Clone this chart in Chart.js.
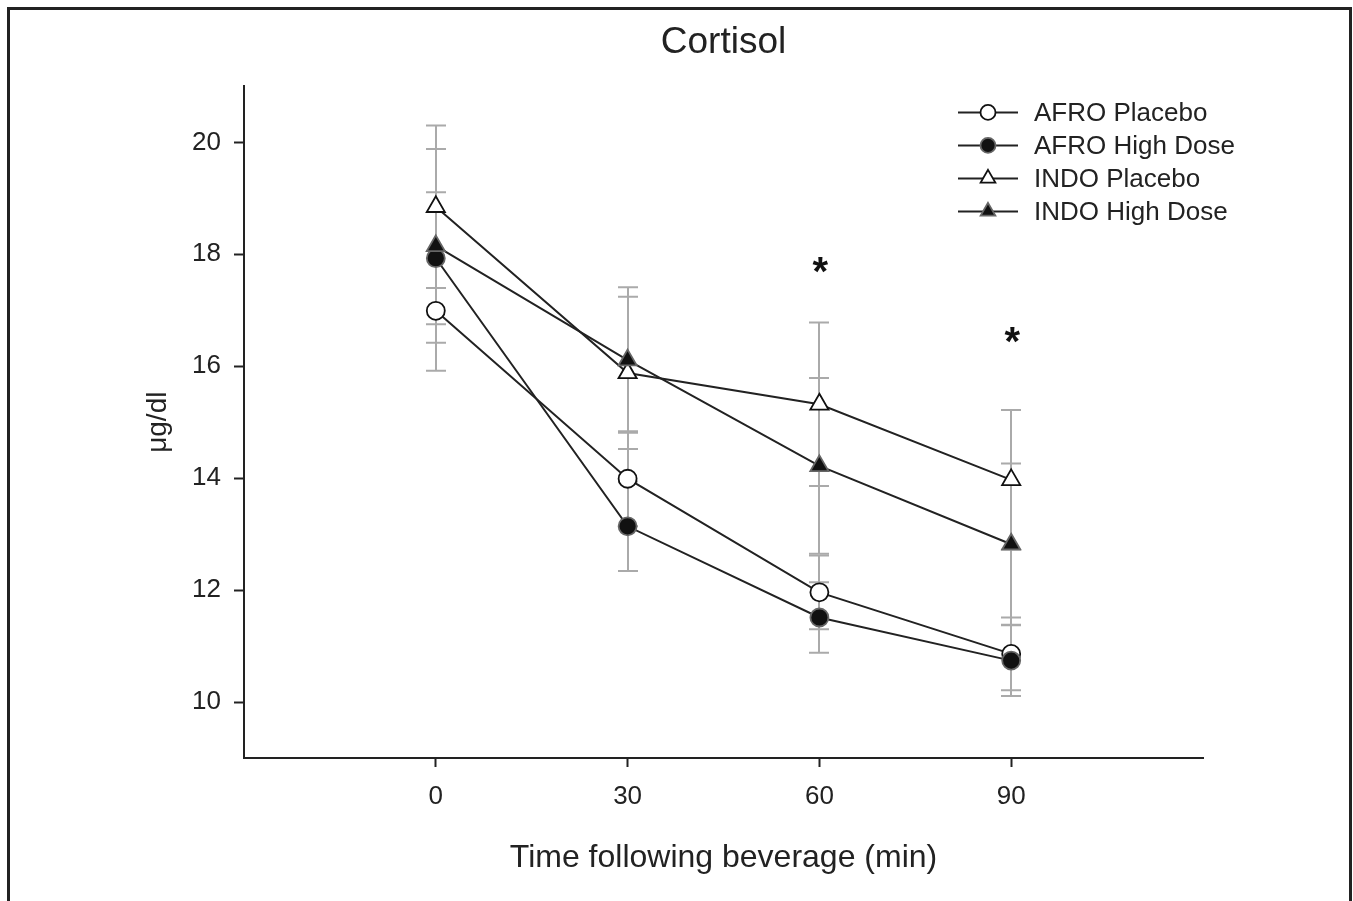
<!DOCTYPE html>
<html>
<head>
<meta charset="utf-8">
<title>Cortisol</title>
<script src="https://cdn.jsdelivr.net/npm/chart.js@4.4.1/dist/chart.umd.min.js"></script>
<style>
  body { margin: 0; background: #fff; }
  canvas { display: block; }
</style>
</head>
<body>
<canvas id="cortisolChart" width="1353" height="901"></canvas>
<script>
// time points (min) and tick labels
const times = [0, 30, 60, 90];
const xTicks = [0, 30, 60, 90];
const yTicks = [10, 12, 14, 16, 18, 20];

const seriesNames = ['AFRO Placebo', 'AFRO High Dose', 'INDO Placebo', 'INDO High Dose'];

// means (ug/dl)
const afroPlacebo = [16.99, 13.99, 11.96, 10.86];
const afroHighDose = [17.93, 13.14, 11.51, 10.74];
const indoPlacebo = [18.85, 15.88, 15.32, 13.97];
const indoHighDose = [18.15, 16.11, 14.22, 12.82];

// error bar half-widths
const afroPlaceboErr = [1.07, 0.85, 0.66, 0.65];
const afroHighDoseErr = [1.18, 0.80, 0.63, 0.63];
const indoPlaceboErr = [1.45, 1.36, 1.46, 1.25];
const indoHighDoseErr = [1.73, 1.30, 1.57, 1.44];

// significance asterisks
const sigTimes = [60, 90];
const sigLevels = [17.77, 16.52];

const FONT = '"Liberation Sans", Arial, Helvetica, sans-serif';
const INK = '#222';

function toPoints(values) {
    return values.map((v, i) => ({ x: times[i], y: v }));
}

function drawMarker(ctx, style, x, y, r, fill, stroke, lw) {
    ctx.save();
    ctx.beginPath();
    if (style === 'triangle') {
        ctx.moveTo(x, y - r);
        ctx.lineTo(x + 0.866 * r, y + 0.5 * r);
        ctx.lineTo(x - 0.866 * r, y + 0.5 * r);
        ctx.closePath();
    } else {
        ctx.arc(x, y, r, 0, Math.PI * 2);
    }
    ctx.fillStyle = fill;
    ctx.fill();
    ctx.lineWidth = lw;
    ctx.strokeStyle = stroke;
    ctx.stroke();
    ctx.restore();
}

const errors = [afroPlaceboErr, afroHighDoseErr, indoPlaceboErr, indoHighDoseErr];

// white background + outer frame (no bottom edge, as in the figure)
const framePlugin = {
    id: 'frame',
    beforeDraw(chart) {
        const ctx = chart.ctx;
        ctx.save();
        ctx.fillStyle = '#fff';
        ctx.fillRect(0, 0, chart.width, chart.height);
        ctx.strokeStyle = INK;
        ctx.lineWidth = 3;
        ctx.beginPath();
        ctx.moveTo(8.5, chart.height + 5);
        ctx.lineTo(8.5, 8.5);
        ctx.lineTo(1350.5, 8.5);
        ctx.lineTo(1350.5, chart.height + 5);
        ctx.stroke();
        ctx.restore();
    }
};

const errorBarPlugin = {
    id: 'errorBars',
    beforeDatasetsDraw(chart) {
        const ctx = chart.ctx;
        const xs = chart.scales.x, ys = chart.scales.y;
        ctx.save();
        ctx.strokeStyle = '#aaa';
        ctx.lineWidth = 2;
        chart.data.datasets.forEach((ds, i) => {
            ds.data.forEach((p, j) => {
                const e = errors[i][j];
                const px = Math.round(xs.getPixelForValue(p.x));
                const top = ys.getPixelForValue(p.y + e);
                const bot = ys.getPixelForValue(p.y - e);
                ctx.beginPath();
                ctx.moveTo(px, top);
                ctx.lineTo(px, bot);
                ctx.moveTo(px - 10, top);
                ctx.lineTo(px + 10, top);
                ctx.moveTo(px - 10, bot);
                ctx.lineTo(px + 10, bot);
                ctx.stroke();
            });
        });
        ctx.restore();
    }
};

const overlayPlugin = {
    id: 'overlay',
    afterDraw(chart) {
        const ctx = chart.ctx;
        const xs = chart.scales.x, ys = chart.scales.y;
        ctx.save();
        // asterisks
        ctx.fillStyle = '#111';
        ctx.font = 'bold 40px ' + FONT;
        ctx.textAlign = 'center';
        ctx.textBaseline = 'alphabetic';
        sigTimes.forEach((t, i) => {
            ctx.fillText('*', xs.getPixelForValue(t) + 1, ys.getPixelForValue(sigLevels[i]) + 18);
        });

        // legend
        const lineX0 = 958, lineX1 = 1018, markX = 988, textX = 1034;
        ctx.font = '26px ' + FONT;
        ctx.textAlign = 'left';
        ctx.textBaseline = 'middle';
        chart.data.datasets.forEach((ds, i) => {
            const y = chart.chartArea.top + 26 + i * 33;
            ctx.strokeStyle = INK;
            ctx.lineWidth = 2;
            ctx.beginPath();
            ctx.moveTo(lineX0, y);
            ctx.lineTo(lineX1, y);
            ctx.stroke();
            const r = ds.pointStyle === 'triangle' ? 8.5 : 7.5;
            drawMarker(ctx, ds.pointStyle, markX, y, r, ds.pointBackgroundColor,
                ds.pointBorderColor, ds.pointBorderWidth);
            ctx.fillStyle = INK;
            ctx.fillText(ds.label, textX, y + 1);
        });
        ctx.restore();
    }
};

function makeDataset(label, values, style, fill, stroke, order) {
    return {
        label: label,
        data: toPoints(values),
        order: order,
        borderColor: INK,
        borderWidth: 2,
        pointStyle: style,
        pointRadius: style === 'triangle' ? 10.5 : 9,
        pointBackgroundColor: fill,
        pointBorderColor: stroke,
        pointBorderWidth: 1.8,
        tension: 0
    };
}

const ctx = document.getElementById('cortisolChart').getContext('2d');
const cortisolChart = new Chart(ctx, {
    type: 'line',
    data: {
        datasets: [
            makeDataset(seriesNames[0], afroPlacebo, 'circle', '#fff', '#111', 4),
            makeDataset(seriesNames[1], afroHighDose, 'circle', '#111', '#666', 2),
            makeDataset(seriesNames[2], indoPlacebo, 'triangle', '#fff', '#111', 3),
            makeDataset(seriesNames[3], indoHighDose, 'triangle', '#111', '#666', 1)
        ]
    },
    options: {
        responsive: false,
        animation: false,
        layout: { padding: { left: 0, right: 150, top: 0, bottom: 0 } },
        plugins: {
            legend: { display: false },
            tooltip: { enabled: false },
            title: {
                display: true,
                text: 'Cortisol',
                fullSize: false,
                color: INK,
                font: { family: FONT, size: 37, weight: 'normal' },
                padding: { top: 21, bottom: 21 }
            }
        },
        scales: {
            x: {
                type: 'linear',
                min: -30,
                max: 120,
                afterBuildTicks: s => { s.ticks = xTicks.map(v => ({ value: v })); },
                afterFit: s => { s.height = 143; },
                grid: { drawOnChartArea: false, drawTicks: true, tickLength: 9, tickColor: INK, tickWidth: 2 },
                border: { display: true, color: INK, width: 2 },
                ticks: { color: INK, padding: 14, font: { family: FONT, size: 26 } },
                title: {
                    display: true,
                    text: 'Time following beverage (min)',
                    color: INK,
                    font: { family: FONT, size: 32 },
                    padding: { top: 0, bottom: 24 }
                }
            },
            y: {
                type: 'linear',
                min: 9,
                max: 21,
                afterBuildTicks: s => { s.ticks = yTicks.map(v => ({ value: v })); },
                afterFit: s => { s.width = 244; },
                grid: { drawOnChartArea: false, drawTicks: true, tickLength: 10, tickColor: INK, tickWidth: 2 },
                border: { display: true, color: INK, width: 2 },
                ticks: { color: INK, padding: 13, font: { family: FONT, size: 26 } },
                title: {
                    display: true,
                    text: 'μg/dl',
                    color: INK,
                    font: { family: FONT, size: 28 },
                    padding: { top: 141, bottom: 0 }
                }
            }
        }
    },
    plugins: [framePlugin, errorBarPlugin, overlayPlugin]
});
</script>
</body>
</html>
